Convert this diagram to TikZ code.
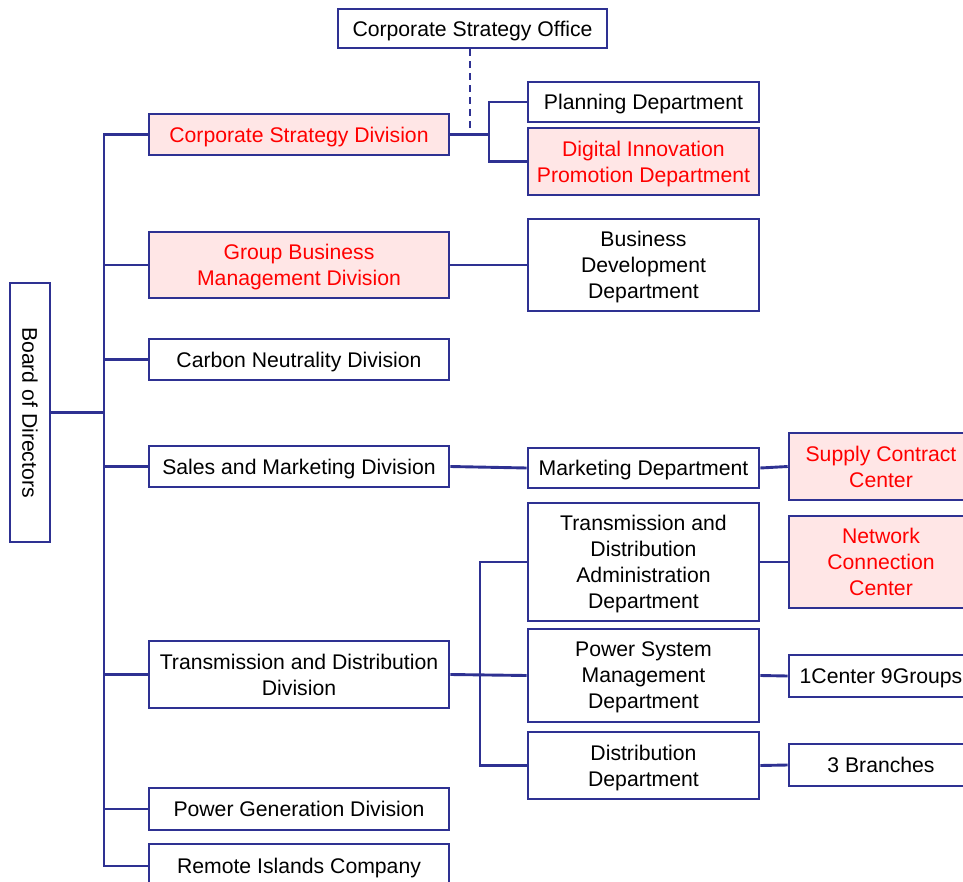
\documentclass[tikz,border=0pt]{standalone}
\usepackage{fontspec}
\setmainfont{Liberation Sans}
\definecolor{navy}{HTML}{2E3192}
\definecolor{pinkfill}{HTML}{FFE6E6}
\definecolor{redtext}{HTML}{FF0000}
\begin{document}
\begin{tikzpicture}[x=1pt,y=-1pt,
  box/.style={draw=navy,line width=2.6pt,fill=white,inner sep=0pt,align=center,
    font=\fontsize{21.2}{26}\selectfont,text=black,text depth=-1.5pt},
  hl/.style={fill=pinkfill,text=redtext},
  conn/.style={draw=navy,line width=2.9pt},
  dconn/.style={draw=navy,line width=2.9pt,dash pattern=on 7pt off 5pt}]
\useasboundingbox (0,0) rectangle (963,882);
\clip (0,0) rectangle (963,882);
% nodes
\node[box,minimum width=269,minimum height=39] (cso) at (472.5,28.5) {Corporate Strategy Office};
\node[box,rotate=-90,minimum width=259,minimum height=40] (board) at (30,412.5) {Board of Directors};
\node[box,hl,minimum width=300,minimum height=41] (csd) at (299,134.5) {Corporate Strategy Division};
\node[box,hl,minimum width=300,minimum height=66] (gbm) at (299,265) {Group Business\\Management Division};
\node[box,minimum width=300,minimum height=41] (cnd) at (299,359.5) {Carbon Neutrality Division};
\node[box,minimum width=300,minimum height=41] (smd) at (299,466.5) {Sales and Marketing Division};
\node[box,minimum width=300,minimum height=67] (tdd) at (299,674.5) {Transmission and Distribution\\Division};
\node[box,minimum width=300,minimum height=42] (pgd) at (299,809) {Power Generation Division};
\node[box,minimum width=300,minimum height=44] (ric) at (299,866) {Remote Islands Company};
\node[box,minimum width=231,minimum height=40] (pld) at (643.5,102) {Planning Department};
\node[box,hl,minimum width=231,minimum height=67] (dip) at (643.5,161.5) {Digital Innovation\\Promotion Department};
\node[box,minimum width=231,minimum height=92] (bdd) at (643.5,265) {Business\\Development\\Department};
\node[box,minimum width=231,minimum height=40] (mkd) at (643.5,468) {Marketing Department};
\node[box,minimum width=231,minimum height=118] (tda) at (643.5,562) {Transmission and\\Distribution\\Administration\\Department};
\node[box,minimum width=231,minimum height=93] (psm) at (643.5,675.5) {Power System\\Management\\Department};
\node[box,minimum width=231,minimum height=67] (dsd) at (643.5,765.5) {Distribution\\Department};
\node[box,hl,minimum width=184,minimum height=67] (scc) at (881,466.5) {Supply Contract\\Center};
\node[box,hl,minimum width=184,minimum height=92] (ncc) at (881,562) {Network\\Connection\\Center};
\node[box,minimum width=184,minimum height=42] (ccg) at (881,676) {1Center 9Groups};
\node[box,minimum width=184,minimum height=42] (brn) at (881,765) {3 Branches};
% trunk
\coordinate (tx) at (104,0);
\draw[conn] (csd.west) -- (csd.west -| tx) -- (ric.west -| tx) -- (ric.west);
\draw[conn] (board.north) -- (board.north -| tx);
\foreach \n in {gbm,cnd,smd,tdd,pgd}{
  \draw[conn] (\n.west -| tx) -- (\n.west);
}
% corporate strategy
\coordinate (cb) at (489,134.5);
\draw[dconn] (cso.south -| 470,0) -- (470,134.5);
\draw[conn] (csd.east) -- (cb);
\draw[conn] (pld.west) -- (pld.west -| cb) -- (dip.west -| cb) -- (dip.west);
% group business
\draw[conn] (gbm.east) -- (bdd.west);
% sales
\draw[conn] (smd.east) -- (mkd.west);
\draw[conn] (mkd.east) -- (scc.west);
% transmission
\coordinate (tdb) at (480,0);
\draw[conn] (tda.west) -- (tda.west -| tdb) -- (dsd.west -| tdb) -- (dsd.west);
\draw[conn] (tdd.east) -- (psm.west);
\draw[conn] (tda.east) -- (ncc.west);
\draw[conn] (psm.east) -- (ccg.west);
\draw[conn] (dsd.east) -- (brn.west);
\end{tikzpicture}
\end{document}
